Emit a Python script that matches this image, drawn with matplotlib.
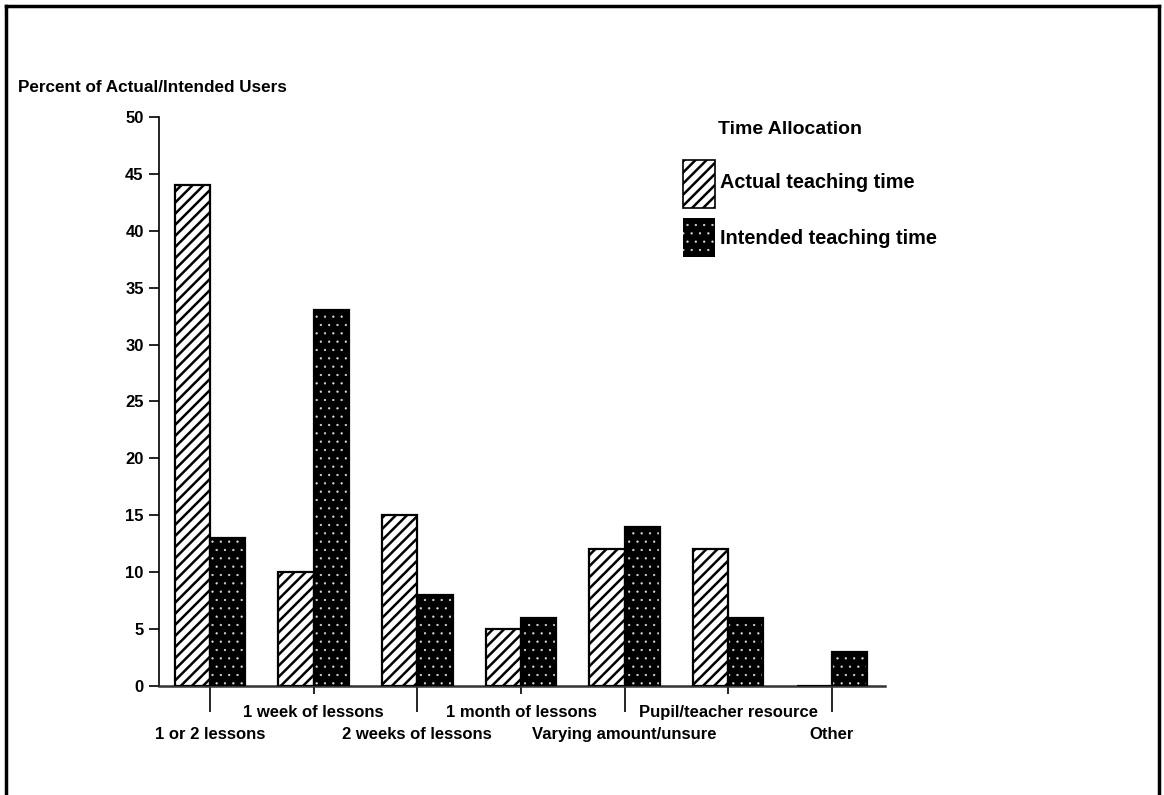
import numpy as np
import matplotlib.pyplot as plt
from matplotlib.patches import Rectangle
from matplotlib.lines import Line2D

plt.rcParams['font.family'] = ['Liberation Sans', 'DejaVu Sans']
plt.rcParams['font.weight'] = 'bold'
plt.rcParams['hatch.linewidth'] = 1.8

# time allocation categories (odd ones sit on the upper label row)
categories = ['1 or 2 lessons', '1 week of lessons', '2 weeks of lessons',
              '1 month of lessons', 'Varying amount/unsure',
              'Pupil/teacher resource', 'Other']
actual = [44, 10, 15, 5, 12, 12, 0]
intended = [13, 33, 8, 6, 14, 6, 3]
yticks = [0, 5, 10, 15, 20, 25, 30, 35, 40, 45, 50]

fig = plt.figure(figsize=(11.64, 7.95), dpi=100)
ax = fig.add_axes([0.1366, 0.137, 0.760 - 0.1366, 0.716])

x = np.arange(len(categories))
w = 0.34

# actual: diagonal hatch
ax.bar(x - w / 2, actual, w, facecolor='white', edgecolor='black',
       hatch='///', linewidth=1.6, zorder=3)

# intended: dark stipple (black fill with sparse white specks)
with plt.rc_context({'hatch.linewidth': 0.4}):
    ax.bar(x + w / 2, intended, w, facecolor='black', edgecolor='#dddddd',
           hatch='..', linewidth=0, zorder=3)
ax.bar(x + w / 2, intended, w, facecolor='none', edgecolor='black',
       linewidth=1.6, zorder=4)

ax.set_xlim(-0.493, 6.51)
ax.set_ylim(0, 50)
ax.set_yticks(yticks)
ax.tick_params(axis='y', direction='out', length=7, width=1.2,
               labelsize=12, pad=4)

# long ticks for the lower label row, short ones for the upper row
ax.set_xticks(x[::2])
ax.set_xticks(x[1::2], minor=True)
ax.set_xticklabels([])
ax.tick_params(axis='x', which='major', direction='out', length=19, width=1.2)
ax.tick_params(axis='x', which='minor', direction='out', length=6, width=1.2)

for s in ['top', 'right']:
    ax.spines[s].set_visible(False)
ax.spines['left'].set_linewidth(1.2)
ax.spines['bottom'].set_linewidth(1.8)
ax.spines['bottom'].set_color('#333333')

# staggered category labels
for i, lab in enumerate(categories):
    dy = -19 if i % 2 == 1 else -35
    ax.annotate(lab, (i, 0), xytext=(0, dy), textcoords='offset points',
                ha='center', va='center', fontsize=12)

fig.text(18 / 1164, 1 - 88 / 795, 'Percent of Actual/Intended Users',
         ha='left', va='center', fontsize=12.3)

# legend
fig.text(718 / 1164, 1 - 130 / 795, 'Time Allocation', ha='left',
         va='center', fontsize=14)
fig.patches.append(Rectangle((683 / 1164, 1 - 208 / 795), 32 / 1164,
                             48 / 795, transform=fig.transFigure,
                             facecolor='white', edgecolor='black',
                             hatch='///', linewidth=1.2))
with plt.rc_context({'hatch.linewidth': 0.4}):
    fig.patches.append(Rectangle((683 / 1164, 1 - 257 / 795), 32 / 1164,
                                 39 / 795, transform=fig.transFigure,
                                 facecolor='black', edgecolor='#dddddd',
                                 hatch='..', linewidth=0))
fig.text(720 / 1164, 1 - 183 / 795, 'Actual teaching time', ha='left',
         va='center', fontsize=14.3)
fig.text(720 / 1164, 1 - 238 / 795, 'Intended teaching time', ha='left',
         va='center', fontsize=14.3)

# page frame
for xs, ys in [([6, 6], [6, 795]), ([6, 1159], [6, 6]),
               ([1159, 1159], [6, 795])]:
    fig.add_artist(Line2D([v / 1164 for v in xs], [1 - v / 795 for v in ys],
                          transform=fig.transFigure, color='black',
                          linewidth=2.5))

fig.savefig('out.png', dpi=100)
